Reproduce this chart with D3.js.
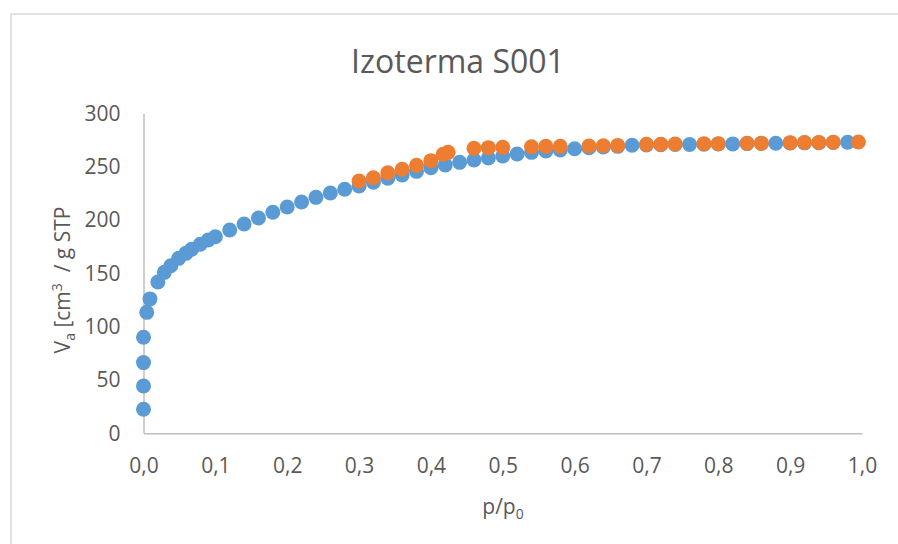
<!DOCTYPE html>
<html>
<head>
    <meta charset="UTF-8">
    <title>Izoterma S001</title>
    <style>
        body {
            margin: 0;
            padding: 0;
            background: #fff;
        }
        svg text {
            font-family: 'Open Sans', sans-serif;
            fill: #595959;
            white-space: pre;
        }
        .axis path {
            stroke: #bfbfbf;
            stroke-width: 1.5px;
        }
        .axis text {
            font-size: 21px;
            fill: #595959;
        }
    </style>
</head>
<body>

<svg></svg>

<script src="https://d3js.org/d3.v7.min.js"></script>
<script>

// dimensions
let w = 898, h = 544;

// adsorption branch (blue)
let adsX = [0, 0, 0, 0, 0.0045, 0.009, 0.02, 0.029, 0.038, 0.049, 0.059, 0.067, 0.079, 0.09, 0.1,
    0.12, 0.14, 0.16, 0.18, 0.2, 0.22, 0.24, 0.26, 0.28, 0.3, 0.32, 0.34, 0.36, 0.38, 0.4,
    0.42, 0.44, 0.46, 0.48, 0.5, 0.52, 0.54, 0.56, 0.58, 0.6, 0.62, 0.64, 0.66, 0.68, 0.7,
    0.72, 0.74, 0.76, 0.78, 0.8, 0.82, 0.84, 0.86, 0.88, 0.9, 0.92, 0.94, 0.96, 0.98];
let adsY = [22.5, 44.3, 66.3, 90, 113.4, 126, 141.8, 150.9, 157.1, 164, 168.7, 172.5, 177.2, 181.2, 184.3,
    190.6, 196.2, 201.8, 207.2, 212.2, 216.8, 221.2, 225.3, 228.8, 231.8, 235.3, 239.1, 242.2, 245.6, 249,
    251.5, 254, 256.2, 258.1, 260, 261.8, 263.4, 264.7, 265.6, 266.8, 267.8, 268.4, 269, 270, 270.3,
    270.6, 270.8, 270.8, 271.1, 271.3, 271.3, 271.6, 271.8, 271.9, 272.1, 272.3, 272.4, 272.6, 272.8];

// desorption branch (orange)
let desX = [0.3, 0.32, 0.34, 0.36, 0.38, 0.4, 0.417, 0.424, 0.46, 0.48, 0.5, 0.54, 0.56, 0.58,
    0.62, 0.64, 0.66, 0.7, 0.72, 0.74, 0.78, 0.8, 0.84, 0.86, 0.9, 0.92, 0.94, 0.96, 0.995];
let desY = [236.5, 239.6, 244.3, 247.5, 251.2, 255.6, 261.6, 263.4, 267.2, 267.8, 268.1, 268.7, 269, 269,
    269.3, 269.6, 269.9, 270.9, 270.9, 271.2, 271.4, 271.5, 271.9, 272, 272.5, 272.6, 272.7, 272.9, 273.1];

// axis ticks
let xTicks = [0, 0.1, 0.2, 0.3, 0.4, 0.5, 0.6, 0.7, 0.8, 0.9, 1.0];
let yTicks = [0, 50, 100, 150, 200, 250, 300];

let svg = d3.select("svg")
    .attr("width", w)
    .attr("height", h);

// chart area border
svg.append("rect")
    .attr("x", 11)
    .attr("y", 14)
    .attr("width", w)
    .attr("height", h)
    .attr("fill", "#fff")
    .attr("stroke", "#d9d9d9")
    .attr("stroke-width", 1.5);

// scales
let x = d3.scaleLinear().domain([0, 1]).range([143.5, 862]);
let y = d3.scaleLinear().domain([0, 300]).range([433.3, 113.3]);

let comma = d => d3.format(".1f")(d).replace(".", ",");

svg.append("g")
    .attr("class", "axis")
    .attr("transform", `translate(0,${y(0)})`)
    .call(d3.axisBottom(x).tickValues(xTicks).tickFormat(comma).tickSize(0).tickPadding(25))
    .call(g => g.selectAll("text").attr("font-family", "'Open Sans', sans-serif"));

svg.append("g")
    .attr("class", "axis")
    .attr("transform", `translate(${x(0)},0)`)
    .call(d3.axisLeft(y).tickValues(yTicks).tickSize(0).tickPadding(23))
    .call(g => g.selectAll("text").attr("font-family", "'Open Sans', sans-serif"));

// points
let ads = adsX.map((v, i) => ({x: v, y: adsY[i]}));
let des = desX.map((v, i) => ({x: v, y: desY[i]}));

svg.append("g")
    .selectAll("circle")
    .data(ads)
    .enter()
    .append("circle")
    .attr("cx", d => x(d.x))
    .attr("cy", d => y(d.y))
    .attr("r", 7.5)
    .attr("fill", "#5b9bd5");

svg.append("g")
    .selectAll("circle")
    .data(des)
    .enter()
    .append("circle")
    .attr("cx", d => x(d.x))
    .attr("cy", d => y(d.y))
    .attr("r", 7.5)
    .attr("fill", "#ed7d31");

// title
svg.append("text")
    .attr("x", 458)
    .attr("y", 73)
    .attr("text-anchor", "middle")
    .attr("font-size", "32px")
    .text("Izoterma S001");

// x label
let xl = svg.append("text")
    .attr("x", 503)
    .attr("y", 514)
    .attr("text-anchor", "middle")
    .attr("font-size", "21px");
xl.append("tspan").text("p/p");
xl.append("tspan").attr("font-size", "14px").attr("dy", 5).text("0");

// y label
let yl = svg.append("text")
    .attr("transform", "translate(70,280) rotate(-90)")
    .attr("text-anchor", "middle")
    .attr("font-size", "21px");
yl.append("tspan").text("V");
yl.append("tspan").attr("font-size", "14px").attr("dy", 5).text("a");
yl.append("tspan").attr("dy", -5).text(" [cm");
yl.append("tspan").attr("font-size", "14px").attr("dy", -8).text("3");
yl.append("tspan").attr("dy", 8).text("  / g STP");

</script>
</body>
</html>
